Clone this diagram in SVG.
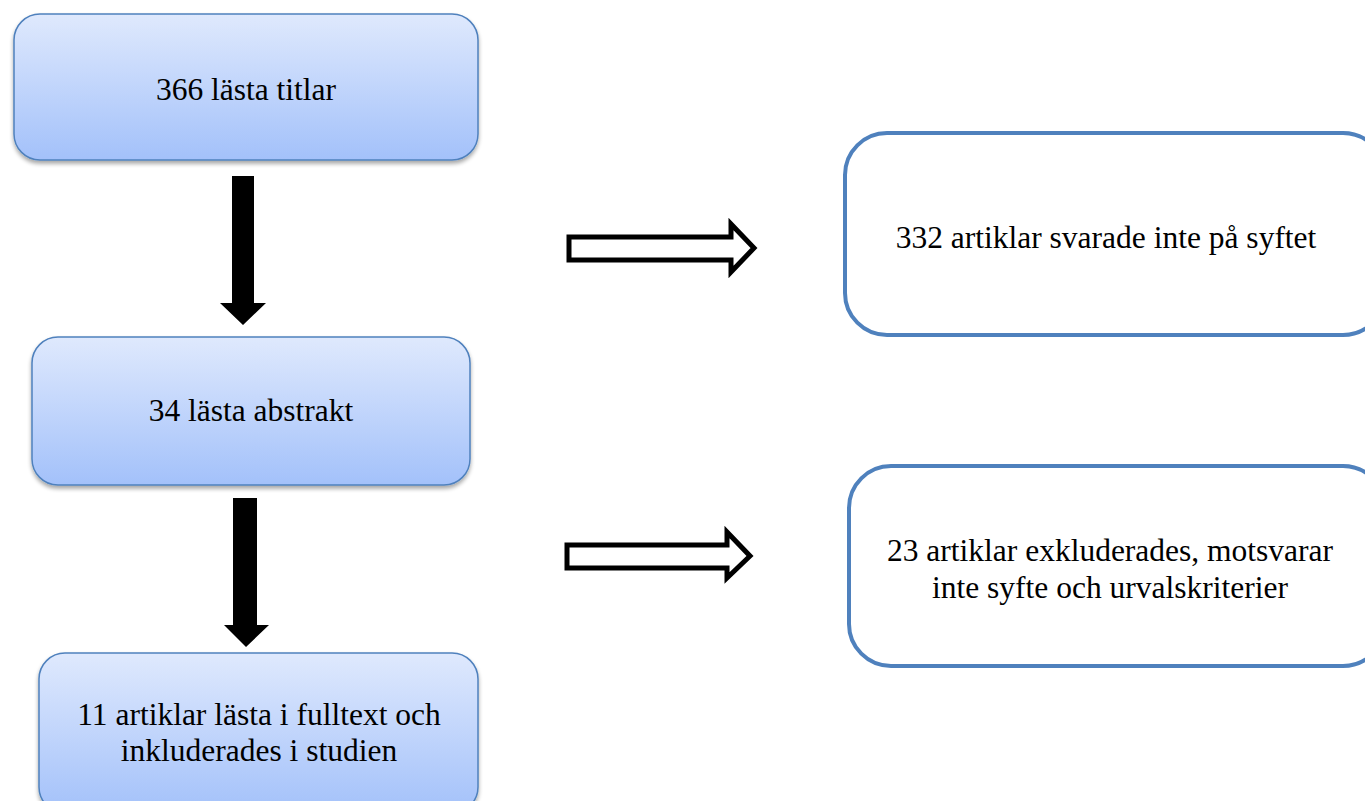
<svg xmlns="http://www.w3.org/2000/svg" width="1365" height="801" viewBox="0 0 1365 801">
<style>
.t{font-family:"Liberation Serif","Times New Roman",serif;font-size:31.5px;fill:#000;text-anchor:middle}
.bl{stroke:#4f81bd;stroke-width:1.5;fill:url(#g)}
.wb{stroke:#4f81bd;stroke-width:4;fill:#fff}
.ha{fill:#fff;stroke:#000;stroke-width:5;stroke-linejoin:miter}
</style>
<defs>
<linearGradient id="g" x1="0" y1="0" x2="0" y2="1">
<stop offset="0" stop-color="#dfe9fd"/>
<stop offset="1" stop-color="#a3c1fa"/>
</linearGradient>
<filter id="sh" x="-5%" y="-5%" width="110%" height="120%">
<feGaussianBlur in="SourceAlpha" stdDeviation="2"/>
<feOffset dy="3" result="b"/>
<feComponentTransfer><feFuncA type="linear" slope="0.35"/></feComponentTransfer>
<feMerge><feMergeNode/><feMergeNode in="SourceGraphic"/></feMerge>
</filter>
</defs>
<rect width="1365" height="801" fill="#fff"/>
<g id="connectors">
<polygon points="232,176 254,176 254,303 266,303 243,325 220,303 232,303" fill="#000"/>
<polygon points="233,498 257,498 257,625 269,625 246,647 224,625 233,625" fill="#000"/>
<polygon class="ha" points="569,237 731,237 731,224 754,248 731,272 731,260 569,260"/>
<polygon class="ha" points="567,545 727,545 727,532 750,556 727,578 727,568 567,568"/>
</g>
<g id="n1">
<rect class="bl" x="14" y="14" width="464" height="146" rx="26" filter="url(#sh)"/>
<text class="t" x="246" y="100">366 lästa titlar</text>
</g>
<g id="n2">
<rect class="bl" x="32" y="337" width="438" height="148" rx="26" filter="url(#sh)"/>
<text class="t" x="251" y="421">34 lästa abstrakt</text>
</g>
<g id="n3">
<rect class="bl" x="39" y="653" width="439" height="160" rx="26" filter="url(#sh)"/>
<text class="t" x="259" y="725">11 artiklar lästa i fulltext och</text>
<text class="t" x="259" y="761">inkluderades i studien</text>
</g>
<g id="n4">
<rect class="wb" x="845" y="133" width="540" height="202" rx="42"/>
<text class="t" x="1106" y="248">332 artiklar svarade inte på syftet</text>
</g>
<g id="n5">
<rect class="wb" x="849" y="466" width="536" height="200" rx="42"/>
<text class="t" x="1110" y="561">23 artiklar exkluderades, motsvarar</text>
<text class="t" x="1110" y="598">inte syfte och urvalskriterier</text>
</g>
</svg>
